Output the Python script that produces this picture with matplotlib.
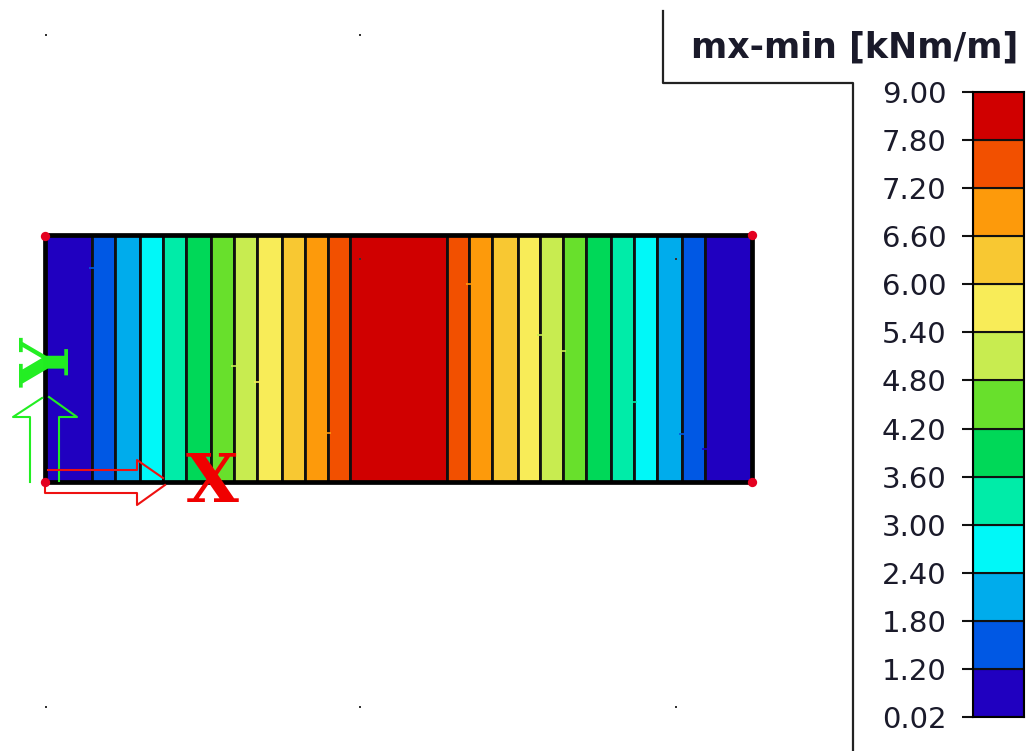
import numpy as np
import matplotlib
matplotlib.use('Agg')
import matplotlib.pyplot as plt

W, H = 1030, 751

level_labels = ['0.02', '1.20', '1.80', '2.40', '3.00', '3.60', '4.20',
                '4.80', '5.40', '6.00', '6.60', '7.20', '7.80', '9.00']
level_colors = ['#2000C0', '#0058E4', '#00ACEC', '#00F8F8', '#00ECA8', '#00D858', '#68E02C',
                '#C8EC50', '#F8EC58', '#F8C832', '#FD9A0B', '#F25000', '#D00000']

# strip edges along the slab and the colour class of every strip
strip_edges = [45, 92, 115, 140, 163, 186, 211, 234, 257, 282, 305, 328, 350, 447,
               469, 492, 518, 540, 563, 586, 611, 634, 657, 682, 705, 752]
strip_class = [0, 1, 2, 3, 4, 5, 6, 7, 8, 9, 10, 11, 12,
               11, 10, 9, 8, 7, 6, 5, 4, 3, 2, 1, 0]
slab_top, slab_bottom = 235, 482

corner_x = [45, 752, 45, 752]
corner_y = [236, 235, 482, 482]
grid_x = [46, 360, 46, 360, 676, 360, 676]
grid_y = [35, 35, 707, 707, 707, 259, 259]
mark_x = [92, 234, 257, 328, 469, 540, 563, 634, 682, 705]
mark_y = [268, 366, 382, 433, 284, 335, 351, 402, 434, 449]
mark_class = [1, 7, 8, 10, 10, 7, 7, 4, 1, 0]

fig = plt.figure(figsize=(W / 100, H / 100), dpi=100)
ax = fig.add_axes([0, 0, 1, 1])
ax.set_xlim(0, W)
ax.set_ylim(H, 0)
ax.axis('off')

edges = np.array(strip_edges)
ax.bar(edges[:-1], slab_bottom - slab_top, width=np.diff(edges), bottom=slab_top, align='edge',
       color=[level_colors[i] for i in strip_class], edgecolor='#101010', linewidth=2.0, zorder=1)
ax.plot([45, 752, 752, 45, 45], [slab_top, slab_top, slab_bottom, slab_bottom, slab_top],
        color='black', lw=3.4, zorder=2, solid_joinstyle='miter')

ax.scatter(grid_x, grid_y, marker='s', s=3.5, color='#333333', lw=0, zorder=3)
ax.scatter(mark_x, mark_y, marker='_', s=22, color=[level_colors[i] for i in mark_class], lw=1.2, zorder=3)
ax.scatter(corner_x, corner_y, s=45, color='#E40020', lw=0, zorder=6)

# frame round the legend
ax.plot([663, 663, 853, 853], [11, 83, 83, 751], color='#222222', lw=1.6)

# local axes arrows
ax.plot([30, 30, 13, 42], [482, 417, 417, 398], color='#22EE22', lw=1.5, zorder=4)
ax.plot([49, 77, 59, 59], [397, 417, 417, 481], color='#22EE22', lw=1.5, zorder=4)
ax.plot([48, 137, 137, 163], [470, 470, 460, 478], color='#EE1111', lw=1.5, zorder=4)
ax.plot([45, 45, 137, 137, 165], [483, 493, 493, 505, 485], color='#EE1111', lw=1.5, zorder=4)
ax.text(212, 483, 'X', color='#F00000', family='DejaVu Serif', weight='bold', fontsize=49,
        ha='center', va='center', zorder=5)
ax.text(51, 363, 'Y', color='#22EE22', family='DejaVu Serif', weight='bold', fontsize=49,
        rotation=90, ha='center', va='center', zorder=5)

ax.text(855, 48, 'mx-min [kNm/m]', color='#1a1a2a', family='DejaVu Sans', weight='bold', fontsize=25,
        ha='center', va='center')

# colour scale
cax = fig.add_axes([973 / W, 1 - 717 / H, 51 / W, 625 / H])
n = len(level_colors)
cax.bar(np.zeros(n), np.ones(n), width=1, bottom=np.arange(n), align='edge',
        color=level_colors, edgecolor='#111111', linewidth=1.5)
cax.set_xlim(0, 1)
cax.set_ylim(0, n)
cax.set_xticks([])
cax.set_yticks(np.arange(n + 1))
cax.set_yticklabels(level_labels, family='DejaVu Sans', fontsize=21, color='#1a1a2a')
cax.tick_params(axis='y', length=8, width=1.5, pad=11, color='#111111')
for s in cax.spines.values():
    s.set_linewidth(1.5)

fig.savefig('out.png', dpi=100)
